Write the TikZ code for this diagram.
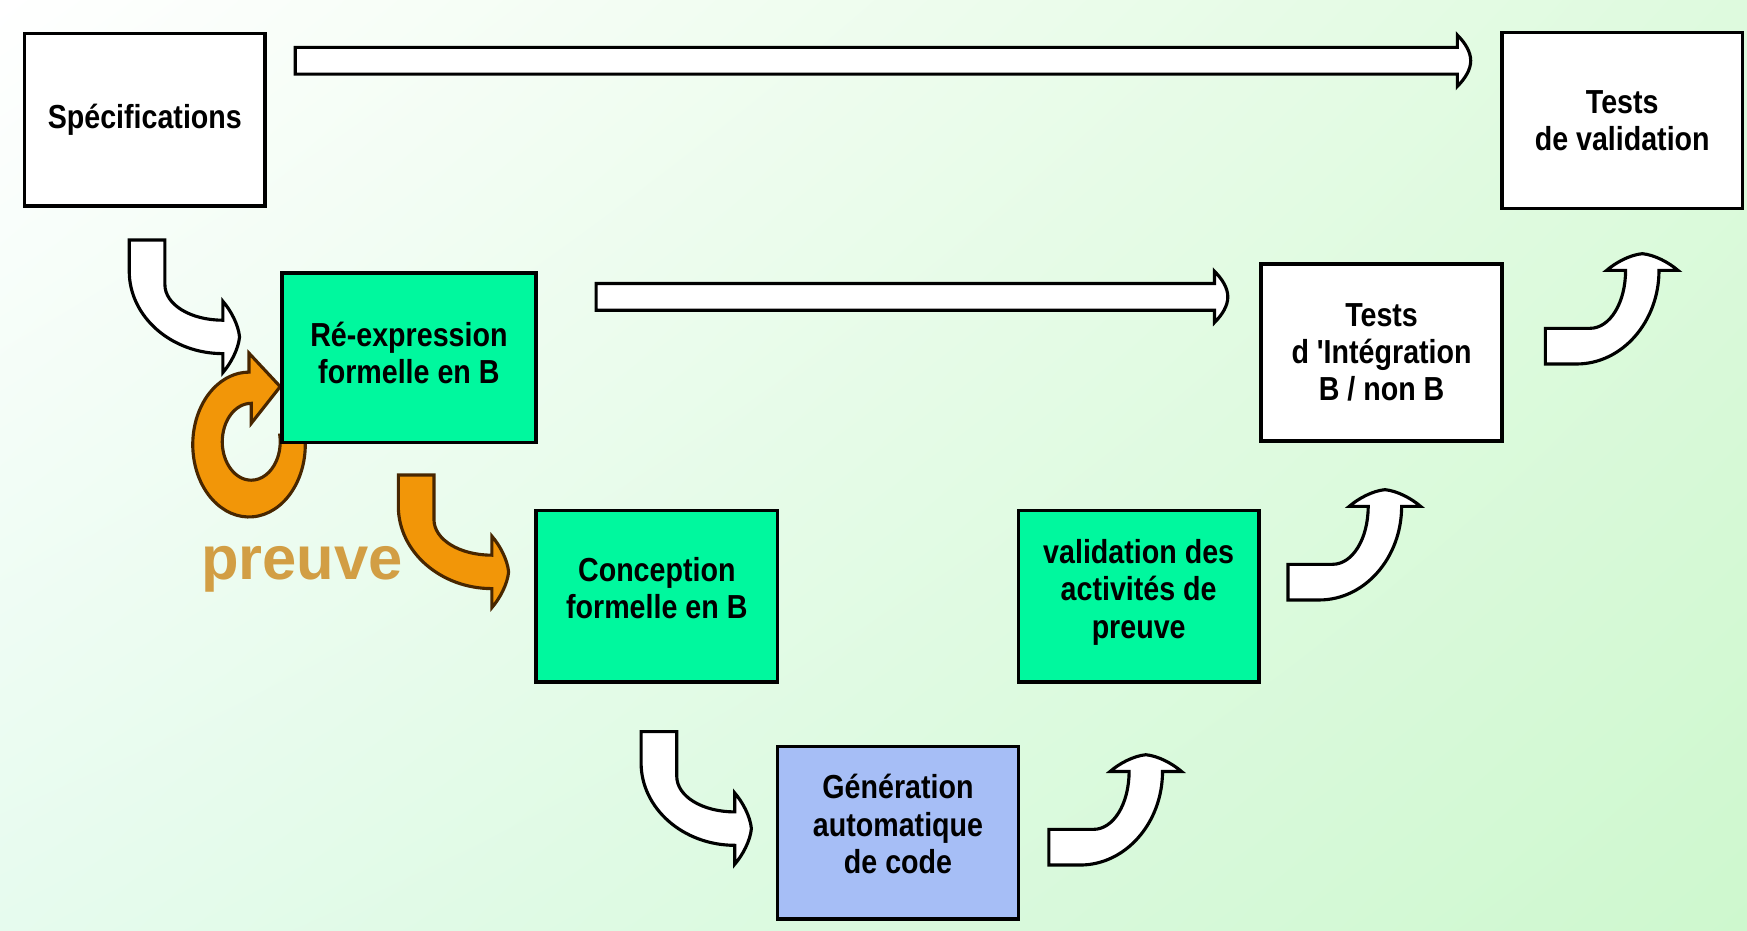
\documentclass[tikz,border=0pt]{standalone}
\usepackage{fontspec}
\setmainfont{Liberation Sans}
\newfontfamily\stagefont[FakeStretch=0.86]{Liberation Sans}
\usepackage{xcolor}
\usepackage{tikz}
\usetikzlibrary{positioning}
\usetikzlibrary{calc, shadings}
\definecolor{stagegreen}{RGB}{0,248,158}
\definecolor{stageblue}{RGB}{166,190,246}
\definecolor{prooforange}{RGB}{242,150,8}
\definecolor{proofbrown}{RGB}{72,38,0}
\definecolor{prooftext}{RGB}{210,158,68}
\definecolor{bgupright}{RGB}{222,250,222}
\definecolor{bglowleft}{RGB}{230,251,238}
\definecolor{bglowright}{RGB}{206,248,206}
\tikzstyle{stage} = [rectangle, minimum width=2.16cm, minimum height=1.55cm, text centered, align=center, draw=black, line width=0.9pt, outer sep=0pt, fill=white, font=\stagefont\bfseries\fontsize{8.5}{9.5}\selectfont]
\tikzstyle{formal} = [stage, fill=stagegreen]
\tikzstyle{codegen} = [stage, fill=stageblue]
\tikzstyle{flatarrow} = [draw=black, line width=0.8pt, fill=white, to path={let \p1=(\tikztostart), \p2=(\tikztotarget) in (\x1,\y1+1.2mm) -- (\x2-1.2mm,\y1+1.2mm) -- (\x2-1.2mm,\y1+2.3mm) .. controls (\x2-0.5mm,\y1+1.6mm) and (\x2,\y1+0.8mm) .. (\x2,\y1) .. controls (\x2,\y1-0.8mm) and (\x2-0.5mm,\y1-1.6mm) .. (\x2-1.2mm,\y1-2.3mm) -- (\x2-1.2mm,\y1-1.2mm) -- (\x1,\y1-1.2mm) -- cycle}]
\tikzstyle{whiteturn} = [draw=black, line width=0.8pt, fill=white]
\tikzstyle{proofturn} = [draw=proofbrown, line width=0.8pt, fill=prooforange]
\tikzset{
  turnarrow/.pic={
    \path[pic actions] (0,0) -- (0.32,0) -- (0.32,-0.40)
      .. controls (0.32,-0.58) and (0.55,-0.72) .. (0.84,-0.72)
      -- (0.84,-0.55) .. controls (0.91,-0.63) and (0.98,-0.76) .. (0.99,-0.87)
      .. controls (0.98,-0.98) and (0.91,-1.11) .. (0.84,-1.19)
      -- (0.84,-1.02) .. controls (0.38,-1.02) and (0,-0.69) .. (0,-0.28) -- cycle;
  }
}

\begin{document}
\begin{tikzpicture}
    % Background
    \shade[upper left=white, upper right=bgupright, lower left=bglowleft, lower right=bglowright] (0,0) rectangle (15.68,-8.35);
    % Nodes
    \node (spec) [stage] at (1.30,-1.075) {Spécifications};
    \pic [whiteturn] at ([xshift=9.4mm,yshift=-3.04mm]spec.south west) {turnarrow};
    % Proof loop
    \coordinate (loopc) at (2.235,-3.99);
    \draw [proofturn, shift={(loopc)}] (10:0.505 and 0.65) arc[start angle=10, end angle=-270, x radius=0.505, y radius=0.65] -- (0,0.82) -- (0.28,0.52) -- (0.02,0.19) -- (0.02,0.37) arc[start angle=90, end angle=370, x radius=0.26, y radius=0.345] -- cycle;
    \node (reexpr) [formal, minimum width=2.28cm, minimum height=1.52cm, text depth=0.9mm, below right=6mm and 1.5mm of spec] {Ré-expression\\formelle en B};
    \node (prooflabel) [anchor=base west, text=prooftext, font=\bfseries\fontsize{15.7}{18}\selectfont, inner sep=0pt] at (1.80,-5.205) {preuve};
    \pic [proofturn] at ([xshift=10.45mm,yshift=-2.93mm]reexpr.south west) {turnarrow};
    \node (concep) [formal, minimum width=2.17cm, minimum height=1.54cm, text depth=1.4mm, below right=6.1mm and 0cm of reexpr] {Conception\\formelle en B};
    \pic [whiteturn] at ([xshift=9.44mm,yshift=-4.47mm]concep.south west) {turnarrow};
    \node (gen) [codegen, text depth=1.6mm, below right=5.8mm and 0cm of concep] {Génération\\automatique\\de code};
    \pic [whiteturn, rotate=90] at ([xshift=2.74mm,yshift=4.86mm]gen.south east) {turnarrow};
    \node (valid) [formal, minimum height=1.54cm, text depth=1.3mm, above right=5.8mm and 0cm of gen] {validation des\\activités de\\preuve};
    \pic [whiteturn, rotate=90] at ([xshift=2.6mm,yshift=7.35mm]valid.south east) {turnarrow};
    \node (integ) [stage, minimum height=1.59cm, above right=6.2mm and 0.2mm of valid] {Tests\\d 'Intégration\\B / non B};
    \pic [whiteturn, rotate=90] at ([xshift=3.9mm,yshift=6.93mm]integ.south east) {turnarrow};
    \node (testval) [stage, minimum height=1.58cm, above right=5mm and 0cm of integ] {Tests\\de validation};
    % Arrows
    \coordinate (specout) at ([xshift=2.7mm,yshift=-2.45mm]spec.north east);
    \coordinate (testvalin) at ([xshift=-2.8mm,yshift=-2.45mm]testval.north west);
    \coordinate (reexprout) at ([xshift=5.4mm,yshift=-2.15mm]reexpr.north east);
    \coordinate (integin) at ([xshift=-3mm,yshift=-2.95mm]integ.north west);
    \draw [flatarrow] (specout) to (testvalin);
    \draw [flatarrow] (reexprout) to (integin);
\end{tikzpicture}
\end{document}
